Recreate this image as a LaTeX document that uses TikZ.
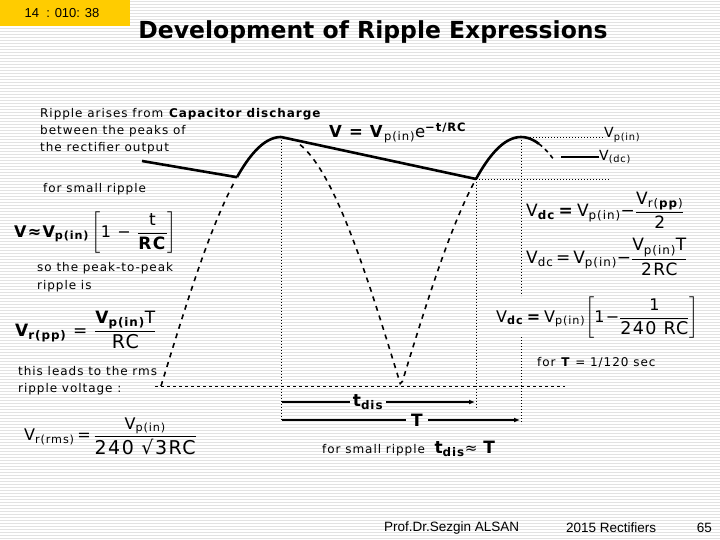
\documentclass[tikz,border=0pt]{standalone}
\usepackage{fontspec}
\usepackage{amsmath}
\setmainfont[LetterSpace=8]{DejaVu Sans}
\newfontfamily\titlefont{DejaVu Sans}
\newfontfamily\slidefont{Liberation Sans}
\usetikzlibrary{arrows.meta}
\definecolor{clockgold}{RGB}{255,204,0}
\definecolor{stripe}{RGB}{226,226,226}
\newcommand\bigtxt[1]{\text{\fontsize{19}{21}\selectfont #1}}
\tikzset{
  wave/.style={line width=2.6pt, line join=round},
  dashwave/.style={line width=1.6pt, dash pattern=on 5pt off 5pt},
  guide/.style={line width=0.8pt, dash pattern=on 1pt off 2pt},
  zeroline/.style={line width=0.8pt, dash pattern=on 3pt off 3pt},
  dimline/.style={line width=1.6pt},
  note/.style={anchor=west, inner sep=0pt, font=\fontsize{12}{15}\selectfont},
  formula/.style={anchor=west, inner sep=0pt, font=\fontsize{16}{19}\selectfont},
  footer/.style={inner sep=0pt, font=\slidefont\fontsize{13.5}{16}\selectfont},
}
\begin{document}
\begin{tikzpicture}[x=1pt,y=-1pt]
\useasboundingbox (0,0) rectangle (720,540);
\fill[white] (0,0) rectangle (720,540);
\foreach \y in {1.5,4.5,...,540}
    \draw[stripe, line width=1pt] (0,\y) -- (720,\y);
% clock and title
\fill[clockgold] (0,0) rectangle (130,26);
\node[inner sep=0pt, font=\slidefont\fontsize{13}{15}\selectfont] (clock) at (62,13) {14 \ : 010: 38};
\node[inner sep=0pt, font=\titlefont\bfseries\fontsize{23.5}{27}\selectfont] (title) at (373,32) {Development of Ripple Expressions};
% points of the waveform
\coordinate (start) at (142,161);
\coordinate (tr1) at (237,177.2);
\coordinate (pk1) at (281,137);
\coordinate (tr2) at (476,179);
\coordinate (pk2) at (521,137);
\coordinate (zL) at (155,386);
\coordinate (zR) at (565,386);
% guides
\draw[zeroline] (zL) -- (zR);
\draw[guide] (pk1) -- (281,420);
\draw[guide] (tr2) -- (476,408);
\draw[guide] (pk2) -- (521,296);
\draw[guide] (521,337) -- (521,424);
\draw[guide] (pk2) -- (605,137);
\draw[guide] (tr2) -- (610,179);
% rectified sine (dashed) and capacitor voltage (solid)
\draw[dashwave, domain=161:235, samples=30, variable=\x] plot ({\x},{386-249*abs(cos(0.75*(\x-281)))});
\draw[dashwave, domain=300:476, samples=80, variable=\x] plot ({\x},{386-249*abs(cos(0.75*(\x-281)))});
\draw[dashwave, dash pattern=on 4pt off 4pt, domain=539:555, samples=8, variable=\x] plot ({\x},{386-249*abs(cos(0.75*(\x-281)))});
\draw[wave] (start) -- (tr1);
\draw[wave, domain=237:281, smooth, samples=20, variable=\x] plot ({\x},{386-249*abs(cos(0.75*(\x-281)))});
\draw[wave] (pk1) -- (tr2);
\draw[wave, domain=476:539, smooth, samples=25, variable=\x] plot ({\x},{386-249*abs(cos(0.75*(\x-281)))});
% labels at the peaks
\node[formula, font=\fontsize{14}{17}\selectfont] (vpin) at (604,135) {V\textsubscript{p(in)}};
\node[formula, font=\fontsize{14}{17}\selectfont] (vdclab) at (599,157) {V\textsubscript{(dc)}};
\coordinate (dcL) at (561,157);
\draw[line width=1.8pt] (dcL) -- (vdclab.west);
\node[formula, font=\fontsize{16.5}{19}\selectfont] (vexp) at (329,133) {\textbf{V = V}\textsubscript{p(in)}e\textsuperscript{\textbf{−t/RC}}};
% left column
\node[note] (txt1) at (40,114) {Ripple arises from \textbf{Capacitor discharge}};
\node[note] (txt2) at (40,131) {between the peaks of};
\node[note] (txt3) at (40,148) {the rectifier output};
\node[note] (txt4) at (43,189) {for small ripple};
\node[formula] (vapprox) at (14,233) {\textbf{V≈V\textsubscript{p(in)}}\,$\left[\text{1 − }\dfrac{\text{\fontsize{17}{19}\selectfont t}}{\text{\fontsize{17}{19}\selectfont\textbf{RC}}}\right]$};
\node[note] (txt5) at (37,268) {so the peak-to-peak};
\node[note] (txt6) at (37,286) {ripple is};
\node[formula, font=\fontsize{17}{20}\selectfont] (vrpp) at (15,330) {\textbf{V\textsubscript{r(pp)}} = $\dfrac{\text{\textbf{V\textsubscript{p(in)}}T}}{\bigtxt{RC}}$};
\node[note] (txt7) at (18,371) {this leads to the rms};
\node[note] (txt8) at (18,389) {ripple voltage :};
\node[formula] (vrrms) at (24,436) {V\textsubscript{r(rms)}\,=\,$\dfrac{\text{V\textsubscript{p(in)}}}{\bigtxt{240 √3RC}}$};
% right column
\node[formula, font=\fontsize{17}{20}\selectfont] (vdc1) at (526,210) {V\textsubscript{\textbf{dc}}\,\textbf{=}\,V\textsubscript{p(in)}−$\dfrac{\text{V\textsubscript{r(\textbf{pp})}}}{\text{2}}$};
\node[formula, font=\fontsize{17}{20}\selectfont] (vdc2) at (526,257) {V\textsubscript{dc}\,=\,V\textsubscript{p(in)}−$\dfrac{\text{V\textsubscript{p(in)}T}}{\text{2RC}}$};
\node[formula] (vdc3) at (496,318) {V\textsubscript{\textbf{dc}}\,\textbf{=}\,V\textsubscript{p(in)}$\left[\text{1−}\dfrac{\text{1}}{\text{\fontsize{17.5}{20}\selectfont 240 RC}}\right]$};
\node[note] (txt9) at (537,362) {for \textbf{T} = 1/120 sec};
% discharge time and period
\coordinate (tdisL) at (282,402);
\coordinate (tdisR) at (475,402);
\coordinate (perL) at (282,420);
\coordinate (perR) at (520,420);
\node[inner sep=3pt, font=\bfseries\fontsize{17}{20}\selectfont] (tdis) at (368,402) {t\textsubscript{dis}};
\node[inner sep=5pt, font=\bfseries\fontsize{17}{20}\selectfont] (period) at (417,420) {T};
\draw[dimline] (tdisL) -- (tdis.west);
\draw[dimline, -{Latex[length=6pt,width=5pt]}] (tdis.east) -- (tdisR);
\draw[line width=1.3pt] (perL) -- (period.west);
\draw[line width=1.3pt, -{Latex[length=6pt,width=5pt]}] (period.east) -- (perR);
\node[note] (txt10) at (322,449) {for small ripple \ \textbf{\fontsize{17}{20}\selectfont t\textsubscript{dis}}{\fontsize{15}{18}\selectfont ≈} \textbf{\fontsize{17}{20}\selectfont T}};
% footer
\node[footer, anchor=west] (author) at (384,528) {Prof.Dr.Sezgin ALSAN};
\node[footer, anchor=west] (course) at (566,528) {2015 Rectifiers};
\node[footer, anchor=east] (page) at (712,528) {65};
\end{tikzpicture}
\end{document}
